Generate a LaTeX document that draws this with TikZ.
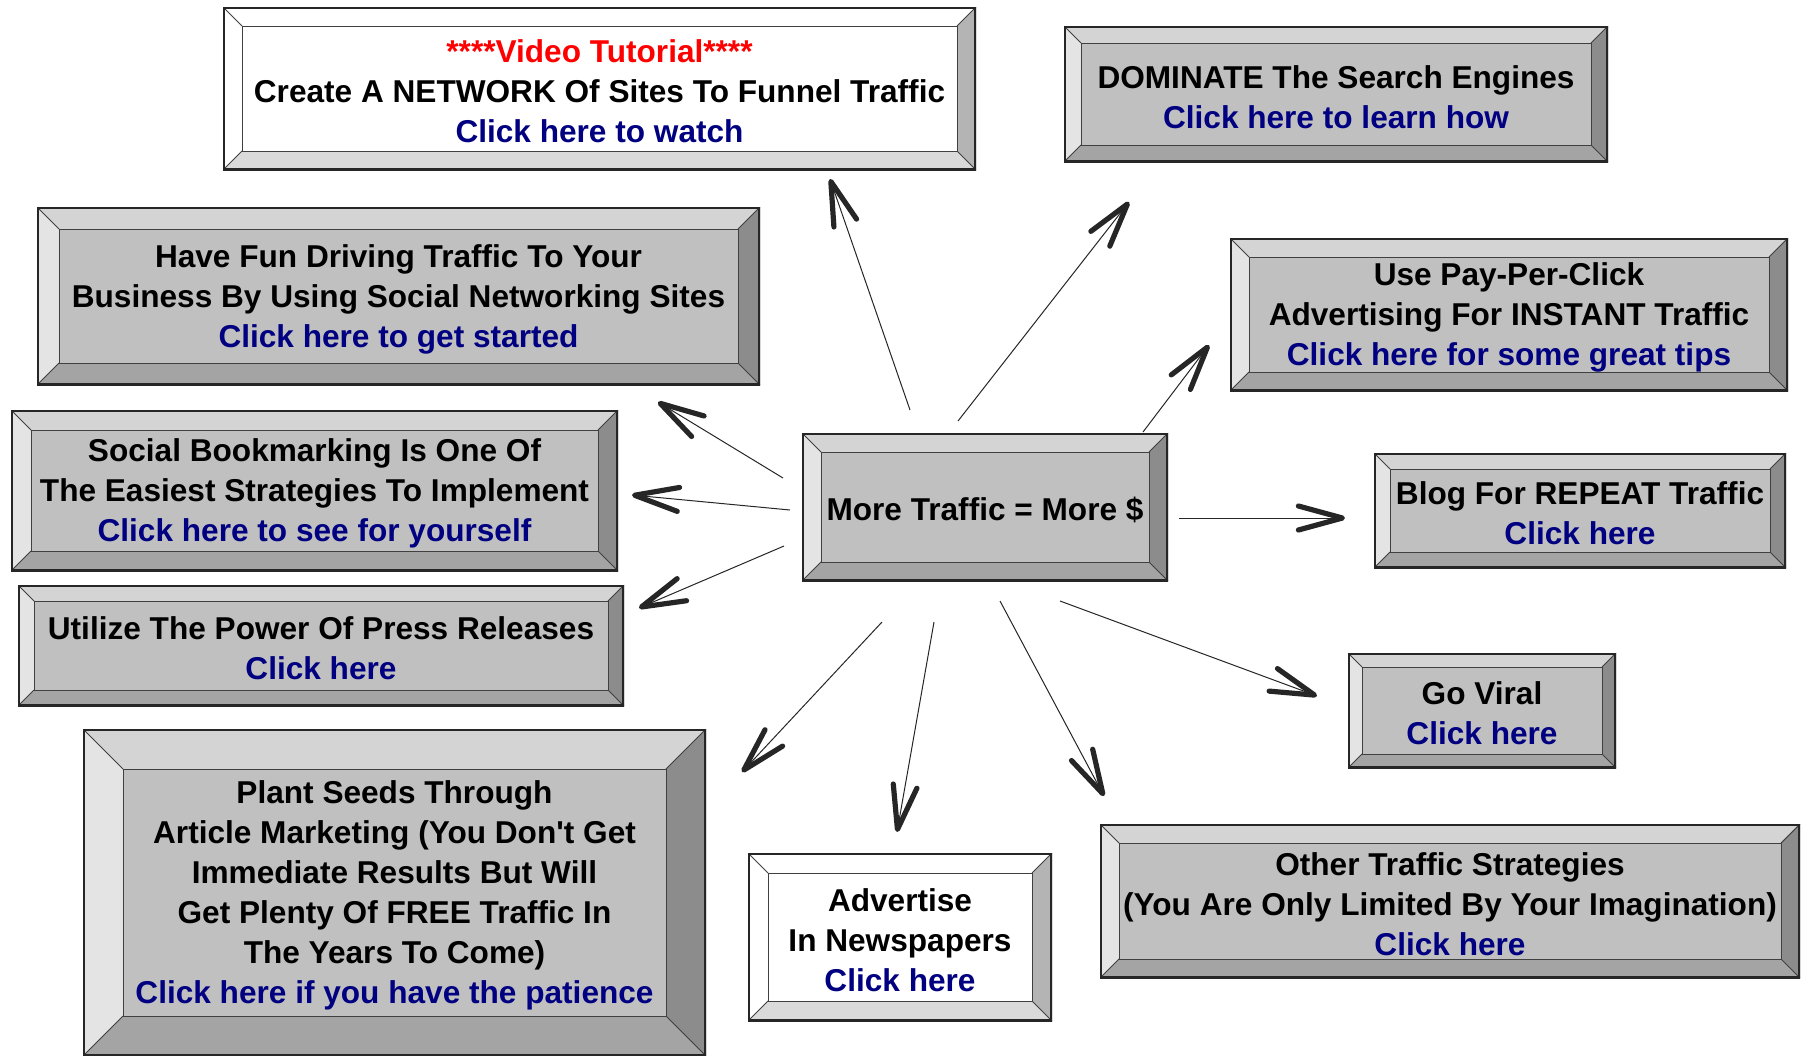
\documentclass[tikz,border=0pt]{standalone}
\usepackage{fontspec}
\setmainfont{Liberation Sans}
\usetikzlibrary{positioning,fit,calc,arrows.meta}

\definecolor{linknavy}{HTML}{000080}
\definecolor{grFace}{HTML}{C0C0C0}
\definecolor{grTop}{HTML}{D4D4D4}
\definecolor{grLeft}{HTML}{E4E4E4}
\definecolor{grRight}{HTML}{8C8C8C}
\definecolor{grBot}{HTML}{A4A4A4}
\definecolor{wtRight}{HTML}{B4B4B4}
\definecolor{wtBot}{HTML}{DADADA}

\begin{document}
\begin{tikzpicture}[
    x=0.5pt, y=-0.5pt,
    bev/.store in=\bvW, bev=19,
    btop/.store in=\bvTop, bleft/.store in=\bvLeft,
    bright/.store in=\bvRight, bbot/.store in=\bvBot,
    greybox/.style={btop=grTop, bleft=grLeft, bright=grRight, bbot=grBot, fill=grFace},
    whitebox/.style={btop=white, bleft=white, bright=wtRight, bbot=wtBot, fill=white},
    edge/.style={draw=black!75, line width=0.5pt},
    box/.style={inner sep=0pt,
      path picture={
        \coordinate (pNW) at (path picture bounding box.north west);
        \coordinate (pNE) at (path picture bounding box.north east);
        \coordinate (pSE) at (path picture bounding box.south east);
        \coordinate (pSW) at (path picture bounding box.south west);
        \coordinate (iNW) at ($(pNW)+(\bvW,\bvW)$);
        \coordinate (iNE) at ($(pNE)+(-\bvW,\bvW)$);
        \coordinate (iSE) at ($(pSE)+(-\bvW,-\bvW)$);
        \coordinate (iSW) at ($(pSW)+(\bvW,-\bvW)$);
        \fill[fill=\bvTop] (pNW) -- (pNE) -- (iNE) -- (iNW) -- cycle;
        \fill[fill=\bvLeft] (pNW) -- (iNW) -- (iSW) -- (pSW) -- cycle;
        \fill[fill=\bvRight] (pNE) -- (pSE) -- (iSE) -- (iNE) -- cycle;
        \fill[fill=\bvBot] (pSW) -- (iSW) -- (iSE) -- (pSE) -- cycle;
        \draw[edge] (pNW) -- (iNW) (pNE) -- (iNE) (pSE) -- (iSE) (pSW) -- (iSW);
        \draw[edge] (iNW) rectangle (iSE);
        \draw[black!85, line width=1.6pt] (pNW) rectangle (pSE);
      }},
    boxtext/.style={align=center, anchor=center, inner sep=0pt, yshift=-1.5pt,
      font=\fontsize{15.8}{20}\selectfont\bfseries},
    arrow/.style={black!85, line width=0.5pt,
      -{Straight Barb[length=22pt, width=12pt, line width=2.6pt, round]}}
  ]
  \useasboundingbox (0,0) rectangle (1802,1055);

  % boxes
  \node (vid) [box, whitebox, bev=19, fit={(223,7) (976,170)}] {};
  \node (vid-t) [boxtext] at (vid.center)
    {\textcolor{red}{****Video Tutorial****}\\Create A NETWORK Of Sites To Funnel Traffic\\\textcolor{linknavy}{Click here to watch}};
  \node (dom) [box, greybox, bev=17, fit={(1064,26) (1608,162)}] {};
  \node (dom-t) [boxtext] at (dom.center)
    {DOMINATE The Search Engines\\\textcolor{linknavy}{Click here to learn how}};
  \node (fun) [box, greybox, bev=22, fit={(37,207) (760,385)}] {};
  \node (fun-t) [boxtext] at (fun.center)
    {Have Fun Driving Traffic To Your\\Business By Using Social Networking Sites\\\textcolor{linknavy}{Click here to get started}};
  \node (ppc) [box, greybox, bev=19, fit={(1230,238) (1788,391)}] {};
  \node (ppc-t) [boxtext] at (ppc.center)
    {Use Pay-Per-Click\\Advertising For INSTANT Traffic\\\textcolor{linknavy}{Click here for some great tips}};
  \node (book) [box, greybox, bev=20, fit={(11,410) (618,571)}] {};
  \node (book-t) [boxtext] at (book.center)
    {Social Bookmarking Is One Of\\The Easiest Strategies To Implement\\\textcolor{linknavy}{Click here to see for yourself}};
  \node (main) [box, greybox, bev=19, fit={(802,433) (1168,581)}] {};
  \node (main-t) [boxtext] at (main.center) {More Traffic = More \$};
  \node (blog) [box, greybox, bev=16, fit={(1374,453) (1786,568)}] {};
  \node (blog-t) [boxtext] at (blog.center)
    {Blog For REPEAT Traffic\\\textcolor{linknavy}{Click here}};
  \node (press) [box, greybox, bev=16, fit={(18,585) (624,706)}] {};
  \node (press-t) [boxtext] at (press.center)
    {Utilize The Power Of Press Releases\\\textcolor{linknavy}{Click here}};
  \node (viral) [box, greybox, bev=14, fit={(1348,653) (1616,768)}] {};
  \node (viral-t) [boxtext] at (viral.center)
    {Go Viral\\\textcolor{linknavy}{Click here}};
  \node (plant) [box, greybox, bev=40, fit={(83,729) (706,1056)}] {};
  \node (plant-t) [boxtext] at (plant.center)
    {Plant Seeds Through\\Article Marketing (You Don\textquotesingle t Get\\Immediate Results But Will\\Get Plenty Of FREE Traffic In\\The Years To Come)\\\textcolor{linknavy}{Click here if you have the patience}};
  \node (news) [box, whitebox, bev=20, fit={(748,853) (1052,1021)}] {};
  \node (news-t) [boxtext] at (news.center)
    {Advertise\\In Newspapers\\\textcolor{linknavy}{Click here}};
  \node (other) [box, greybox, bev=19, fit={(1100,824) (1800,978)}] {};
  \node (other-t) [boxtext] at (other.center)
    {Other Traffic Strategies\\(You Are Only Limited By Your Imagination)\\\textcolor{linknavy}{Click here}};

  % arrow ends
  \coordinate (s-vid) at (910,410);   \coordinate (t-vid) at (830,179);
  \coordinate (s-dom) at (958,421);   \coordinate (t-dom) at (1129,202);
  \coordinate (s-ppc) at (1143,432);  \coordinate (t-ppc) at (1209,345);
  \coordinate (s-fun) at (783,478);   \coordinate (t-fun) at (658,402);
  \coordinate (s-book) at (790,510);  \coordinate (t-book) at (632,495);
  \coordinate (s-press) at (784,546); \coordinate (t-press) at (639,608);
  \coordinate (s-blog) at (1179,518); \coordinate (t-blog) at (1345,518);
  \coordinate (s-plant) at (882,622); \coordinate (t-plant) at (742,772);
  \coordinate (s-news) at (934,622);  \coordinate (t-news) at (897,832);
  \coordinate (s-other) at (1000,601); \coordinate (t-other) at (1104,796);
  \coordinate (s-viral) at (1060,601); \coordinate (t-viral) at (1317,696);

  \foreach \t in {vid,dom,ppc,fun,book,press,blog,plant,news,other,viral}
    \draw[arrow] (s-\t) -- (t-\t);

\end{tikzpicture}
\end{document}
